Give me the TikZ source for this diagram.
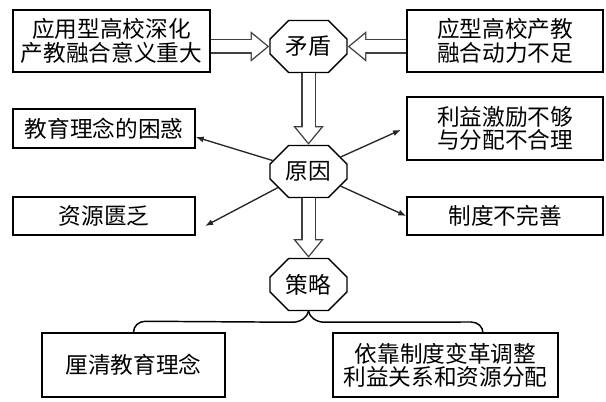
\documentclass[tikz,border=0pt]{standalone}
\usepackage{fontspec}
\newfontfamily\cjk{Noto Sans CJK SC}
\usetikzlibrary{arrows.meta,shapes.misc,calc}

\begin{document}
\begin{tikzpicture}[x=0.75pt, y=-0.75pt,
	main/.style = {draw, line width=1.1pt, align=center, inner sep=0pt, font=\cjk\fontsize{17}{17.5}\selectfont},
	oct/.style = {main, chamfered rectangle, chamfered rectangle xsep=7pt, chamfered rectangle ysep=7pt, minimum width=57.75pt, minimum height=39pt},
	fat/.style = {draw=black!75, line width=11pt, -{Triangle[length=14pt,width=22pt]}, postaction={draw=white, line width=9pt, -{Triangle[length=11.5pt,width=18pt]}, shorten >=1.6pt}},
	thin/.style = {draw=black!85, line width=1pt, -{Latex[length=6pt,width=4.5pt]}}]
	\useasboundingbox (0,0) rectangle (606,402);
	
	\node[oct] (mao) at (308.5,46.5) {矛盾};
	\node[oct] (yuan) at (308.5,171.5) {原因};
	\node[oct] (celue) at (308.5,284.5) {策略};
	
	\node[main, minimum width=147.75pt, minimum height=46.5pt] (ying) at (111.5,41) {应用型高校深化\\产教融合意义重大};
	\node[main, minimum width=147pt, minimum height=46.5pt] (buzu) at (505,41) {应型高校产教\\融合动力不足};
	\node[main, minimum width=136.5pt, minimum height=29.25pt] (kunhuo) at (104,128.5) {教育理念的困惑};
	\node[main, minimum width=147pt, minimum height=47.25pt] (liyi) at (505,128.5) {利益激励不够\\与分配不合理};
	\node[main, minimum width=136.5pt, minimum height=28.5pt] (ziyuan) at (104,216) {资源匮乏};
	\node[main, minimum width=147pt, minimum height=28.5pt] (zhidu) at (505,216) {制度不完善};
	\node[main, minimum width=137.25pt, minimum height=48pt] (liqing) at (133.5,365) {厘清教育理念};
	\node[main, minimum width=168.75pt, minimum height=48pt] (yikao) at (445.5,365) {依靠制度变革调整\\利益关系和资源分配};
	\coordinate (rend) at (483,333);
	
	\draw[fat] (ying.east |- mao.west) -- (mao.west);
	\draw[fat] (buzu.west |- mao.east) -- (mao.east);
	\draw[fat] (mao.south) -- (yuan.north);
	\draw[fat] (yuan.south) -- (celue.north);
	
	\draw[thin] (yuan) -- ([yshift=-6.4pt]kunhuo.east);
	\draw[thin] (yuan) -- ([xshift=-4pt,yshift=-1pt]liyi.west);
	\draw[thin] (yuan) -- ([xshift=7pt,yshift=-7.5pt]ziyuan.east);
	\draw[thin] (yuan) -- (zhidu.west);
	
	\draw[line width=1.1pt] (celue.south) .. controls +(-1,6) and +(8,0) .. ++(-16,11) -- ($(liqing.north)+(12,-11)$) .. controls +(-7,0) and +(0,-6) .. (liqing.north);
	\draw[line width=1.1pt] (celue.south) .. controls +(1,6) and +(-8,0) .. ++(16,11) -- ($(rend)+(-12,-11)$) .. controls +(7,0) and +(0,-6) .. (rend);
\end{tikzpicture}
\end{document}
